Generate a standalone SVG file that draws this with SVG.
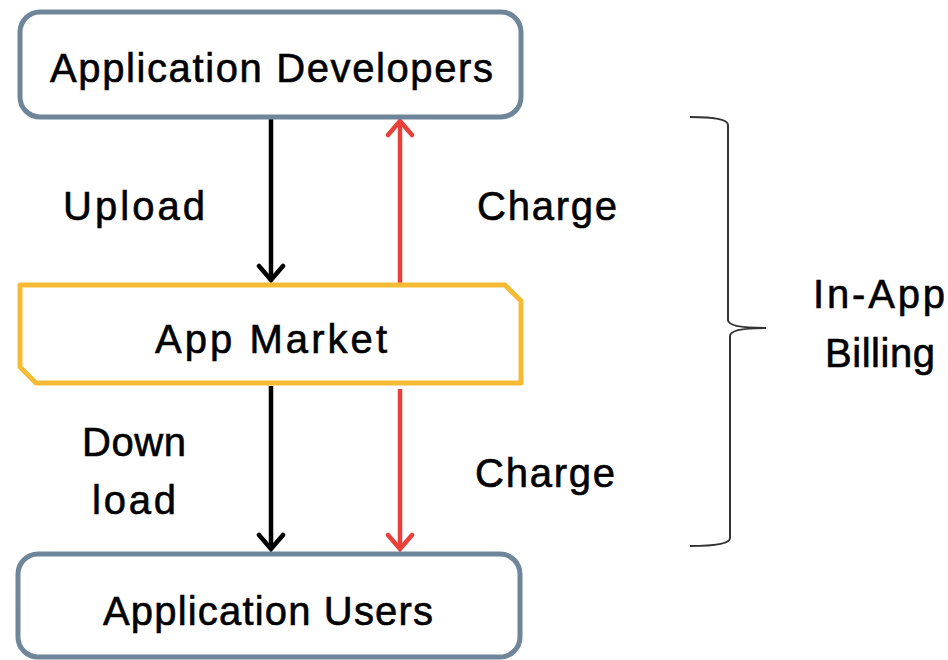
<svg xmlns="http://www.w3.org/2000/svg" width="948" height="660" viewBox="0 0 948 660">
  <defs>
    <style>
      .label { font-family: "Liberation Sans", "DejaVu Sans", sans-serif; font-size: 40px; fill: #000; stroke: #000; stroke-width: 0.6; }
      .box { fill: #fff; stroke: #6f8599; stroke-width: 5; }
      .market { fill: #fff; stroke: #f5bb35; stroke-width: 5; stroke-linejoin: round; }
      .flow { fill: none; stroke-width: 4.5; }
      .black { stroke: #000; }
      .red { stroke: #e8403a; }
      .brace { fill: none; stroke: #333; stroke-width: 2; }
    </style>
    <marker id="headBlack" viewBox="-2 -16 20 32" refX="15" refY="0" markerWidth="20" markerHeight="32" markerUnits="userSpaceOnUse" orient="auto">
      <path d="M1,-12 L15,0 L1,12" fill="none" stroke="#000" stroke-width="4.5" stroke-linecap="round" stroke-linejoin="miter"/>
    </marker>
    <marker id="headRed" viewBox="-2 -16 20 32" refX="15" refY="0" markerWidth="20" markerHeight="32" markerUnits="userSpaceOnUse" orient="auto">
      <path d="M1,-12 L15,0 L1,12" fill="none" stroke="#e8403a" stroke-width="4.5" stroke-linecap="round" stroke-linejoin="miter"/>
    </marker>
  </defs>

  <rect width="948" height="660" fill="#fff"/>

  <!-- connectors -->
  <g id="connectors">
    <line class="flow black" x1="271" y1="118" x2="271" y2="280" marker-end="url(#headBlack)"/>
    <line class="flow red" x1="400" y1="284" x2="400" y2="121" marker-end="url(#headRed)"/>
    <line class="flow black" x1="271" y1="386" x2="271" y2="549" marker-end="url(#headBlack)"/>
    <line class="flow red" x1="400" y1="389" x2="400" y2="549" marker-end="url(#headRed)"/>
  </g>

  <g id="developers">
    <rect class="box" x="20" y="12" width="501" height="105" rx="20" ry="20"/>
    <text class="label" x="50" y="82" textLength="443" lengthAdjust="spacing">Application Developers</text>
  </g>

  <g id="market">
    <path class="market" d="M20,285 L505,285 L521,301 L521,383 L36,383 L20,367 Z"/>
    <text class="label" x="155" y="353" textLength="232" lengthAdjust="spacing">App Market</text>
  </g>

  <g id="users">
    <rect class="box" x="18" y="554" width="502" height="103" rx="20" ry="20"/>
    <text class="label" x="103" y="625" textLength="330" lengthAdjust="spacing">Application Users</text>
  </g>

  <!-- flow labels -->
  <g id="flow-labels">
    <text class="label" x="63" y="220" textLength="142" lengthAdjust="spacing">Upload</text>
    <text class="label" x="477" y="220" textLength="140" lengthAdjust="spacing">Charge</text>
    <text class="label" x="82" y="456" textLength="104" lengthAdjust="spacing">Down</text>
    <text class="label" x="92" y="514" textLength="84" lengthAdjust="spacing">load</text>
    <text class="label" x="475" y="487" textLength="140" lengthAdjust="spacing">Charge</text>
  </g>

  <!-- billing bracket -->
  <g id="billing">
    <path class="brace" d="M690,117 Q728,117 728,125 L728,320 Q728,328 766,328 Q730,328 730,336 L730,538 Q730,546 690,546"/>
    <text class="label" x="813" y="308" textLength="132" lengthAdjust="spacing">In-App</text>
    <text class="label" x="825" y="367" textLength="110" lengthAdjust="spacing">Billing</text>
  </g>
</svg>
